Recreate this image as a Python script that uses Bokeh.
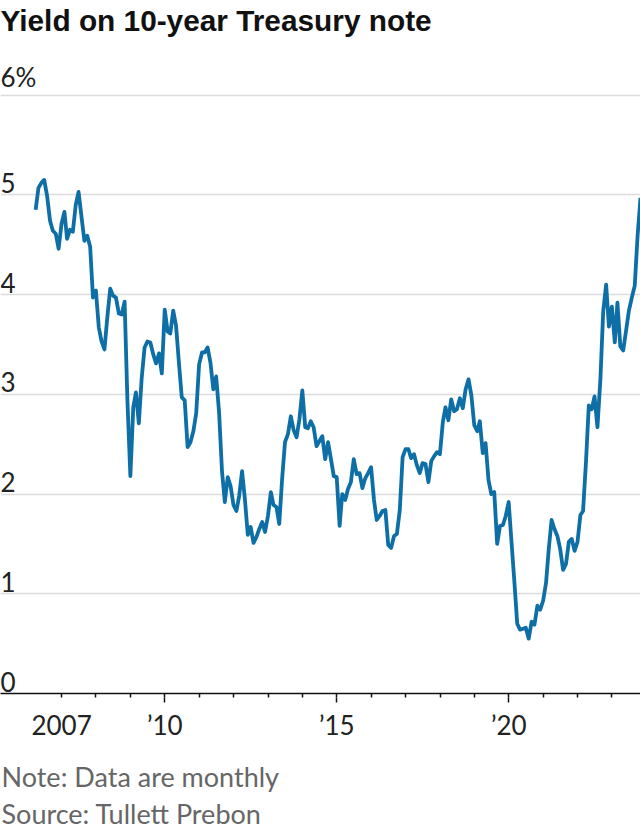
import pandas as pd
from bokeh.plotting import figure
from bokeh.layouts import column
from bokeh.models import FixedTicker, Grid, Range1d, ColumnDataSource, DatetimeAxis
from bokeh.core.properties import value
from bokeh.embed import file_html
from bokeh.resources import INLINE

# ---------------- data (month-end yields, %) ----------------
first_month_end = "2006-03-31"
yields = [
    # 2006 Mar-Dec
    4.85, 5.07, 5.12, 5.15, 4.99, 4.74, 4.64, 4.61, 4.46, 4.71,
    # 2007
    4.83, 4.56, 4.65, 4.63, 4.90, 5.03, 4.78, 4.54, 4.59, 4.48, 3.97, 4.04,
    # 2008
    3.67, 3.53, 3.45, 3.77, 4.06, 3.99, 3.97, 3.81, 3.80, 3.93, 2.93, 2.18,
    # 2009
    2.87, 3.02, 2.71, 3.16, 3.47, 3.53, 3.52, 3.40, 3.31, 3.41, 3.21, 3.85,
    # 2010
    3.63, 3.61, 3.84, 3.69, 3.31, 2.97, 2.94, 2.47, 2.52, 2.63, 2.81, 3.30,
    # 2011
    3.42, 3.42, 3.47, 3.32, 3.05, 3.18, 2.82, 2.23, 1.92, 2.17, 2.08, 1.89,
    # 2012
    1.83, 1.98, 2.23, 1.95, 1.59, 1.67, 1.51, 1.57, 1.65, 1.72, 1.62, 1.78,
    # 2013
    2.02, 1.89, 1.87, 1.70, 2.16, 2.52, 2.60, 2.78, 2.64, 2.57, 2.75, 3.04,
    # 2014
    2.67, 2.66, 2.73, 2.67, 2.48, 2.53, 2.58, 2.35, 2.52, 2.35, 2.18, 2.17,
    # 2015
    1.68, 2.00, 1.94, 2.05, 2.12, 2.35, 2.20, 2.21, 2.06, 2.16, 2.21, 2.27,
    # 2016
    1.94, 1.74, 1.78, 1.83, 1.84, 1.49, 1.46, 1.58, 1.60, 1.84, 2.37, 2.45,
    # 2017
    2.45, 2.36, 2.40, 2.29, 2.21, 2.31, 2.30, 2.12, 2.33, 2.38, 2.42, 2.40,
    # 2018
    2.72, 2.87, 2.74, 2.95, 2.83, 2.85, 2.96, 2.86, 3.05, 3.15, 2.99, 2.69,
    # 2019
    2.63, 2.73, 2.41, 2.51, 2.14, 2.00, 2.02, 1.50, 1.68, 1.69, 1.78, 1.92,
    # 2020
    1.51, 1.13, 0.70, 0.64, 0.65, 0.66, 0.55, 0.72, 0.69, 0.88, 0.84, 0.93,
    # 2021
    1.11, 1.44, 1.74, 1.65, 1.58, 1.45, 1.24, 1.30, 1.52, 1.55, 1.43, 1.52,
    # 2022
    1.79, 1.83, 2.32, 2.89, 2.85, 2.98, 2.67, 3.15, 3.83, 4.10, 3.68, 3.88,
    # 2023 Jan-Oct
    3.52, 3.92, 3.48, 3.44, 3.64, 3.84, 3.97, 4.09, 4.59, 4.97,
]

y_tick_values = [0, 1, 2, 3, 4, 5, 6]
y_tick_labels = ["0", "1", "2", "3", "4", "5", "6%"]
x_label_years = [2007, 2010, 2015, 2020]
x_label_texts = ["2007", "\u201910", "\u201915", "\u201920"]
x_long_tick_years = [2010, 2015, 2020]
x_short_tick_years = list(range(2007, 2024))

title_text = "Yield on 10-year Treasury note"
note_lines = ["Note: Data are monthly", "Source: Tullett Prebon"]

# ---------------- build ----------------
dates = pd.date_range(first_month_end, periods=len(yields), freq="ME")
src = ColumnDataSource(dict(date=dates, y=yields))


def ms(year):
    return pd.Timestamp(f"{year}-01-01").value / 1e6


LINE_COLOR = "#0e6fa6"
TXT_FONT = "Lato"
TICK_SIZE = "26px"
X_START = pd.Timestamp("2005-03-23")
X_END = pd.Timestamp("2023-10-31")

MAIN_H = 750
NOTES_H = 832 - MAIN_H

p = figure(
    width=640, height=MAIN_H,
    x_axis_type="datetime",
    x_range=Range1d(X_START, X_END),
    y_range=Range1d(0, 6.578),
    y_axis_location=None,
    output_backend="svg", toolbar_location=None,
    min_border_left=0, min_border_right=0, min_border_top=0, min_border_bottom=57,
    background_fill_color="white", border_fill_color="white",
)
p.outline_line_color = None
p.xgrid.visible = False
p.ygrid.visible = False

# horizontal gridlines
grid = Grid(dimension=1, ticker=FixedTicker(ticks=[v for v in y_tick_values if v > 0]),
            grid_line_color="#dcdcdc", grid_line_width=1.5)
p.add_layout(grid)

# title
p.title.text = title_text
p.title.text_font = "Liberation Sans"
p.title.text_font_style = "bold"
p.title.text_font_size = "29.8px"
p.title.text_color = "#111111"
p.title.align = "left"
p.title.offset = 0
p.title.standoff = 2

# axis 1: baseline + short yearly ticks (no labels)
ax = p.xaxis[0]
ax.ticker = FixedTicker(ticks=[], minor_ticks=[ms(y) for y in x_short_tick_years])
ax.axis_line_color = "#111111"
ax.axis_line_width = 1.5
ax.major_tick_line_color = None
ax.minor_tick_line_color = "#111111"
ax.minor_tick_line_width = 1.5
ax.major_tick_in = 0
ax.major_tick_out = 4
ax.minor_tick_in = 0
ax.minor_tick_out = 4
ax.major_label_standoff = 0
ax.major_label_text_color = None

# axis 2: extension of the long ticks + year labels
lab_ax = DatetimeAxis(
    ticker=FixedTicker(ticks=[ms(y) for y in x_label_years],
                       minor_ticks=[ms(y) for y in x_long_tick_years]),
    major_label_overrides={ms(y): t for y, t in zip(x_label_years, x_label_texts)},
    axis_line_color=None,
    major_tick_line_color=None, major_tick_out=0, major_tick_in=0,
    minor_tick_line_color="#111111", minor_tick_line_width=1.5,
    minor_tick_out=5, minor_tick_in=0,
    major_label_standoff=6,
    major_label_text_font=TXT_FONT, major_label_text_font_size=TICK_SIZE,
    major_label_text_color="#222222",
)
p.add_layout(lab_ax, "below")

# y labels
ysrc = ColumnDataSource(dict(x=[X_START] * len(y_tick_values),
                             y=y_tick_values, t=y_tick_labels))
p.text(x="x", y="y", text="t", source=ysrc, text_font=value(TXT_FONT),
       text_font_size=TICK_SIZE, text_color="#222222", text_baseline="bottom",
       text_align="left", y_offset=-2)

# the series
p.line(x="date", y="y", source=src, line_color=LINE_COLOR, line_width=3.8,
       line_join="round")

# notes panel (y measured in pixels from its top)
n = figure(
    width=640, height=NOTES_H,
    x_range=Range1d(0, 640), y_range=Range1d(NOTES_H, 0),
    x_axis_location=None, y_axis_location=None, title_location=None,
    output_backend="svg", toolbar_location=None,
    min_border_left=0, min_border_right=0, min_border_top=0, min_border_bottom=0,
    background_fill_color="white", border_fill_color="white",
)
n.outline_line_color = None
n.xgrid.visible = False
n.ygrid.visible = False
nsrc = ColumnDataSource(dict(x=[1, 1], y=[26, 62.5], t=note_lines))
n.text(x="x", y="y", text="t", source=nsrc, text_font=value(TXT_FONT),
       text_font_size="27px", text_color="#666666", text_baseline="alphabetic",
       text_align="left")

layout = column(p, n, spacing=0)
open("out.html", "w").write(file_html(layout, INLINE))
